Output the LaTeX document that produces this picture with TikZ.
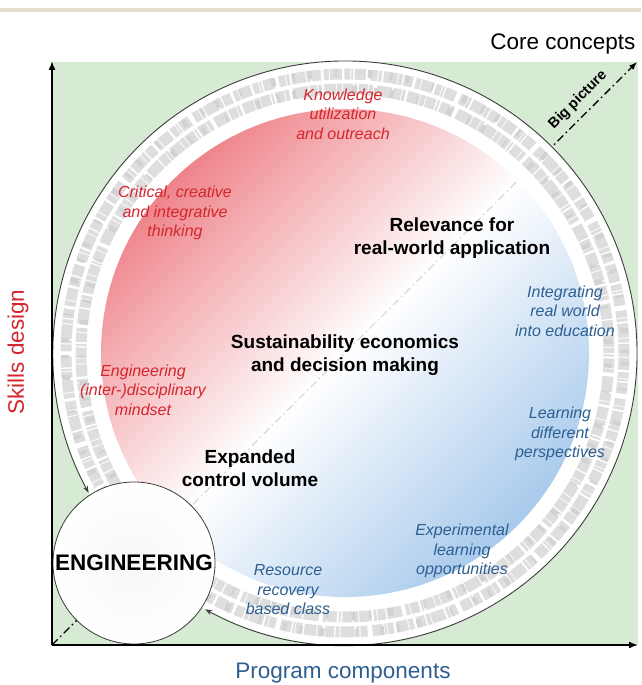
\documentclass[tikz,border=0pt]{standalone}
\usepackage{fontspec}
\setmainfont{Liberation Sans}
\usetikzlibrary{arrows.meta}
\definecolor{bgband}{RGB}{226,223,206}
\definecolor{greenbg}{RGB}{215,234,211}
\definecolor{redtxt}{RGB}{212,38,45}
\definecolor{bluetxt}{RGB}{45,95,145}
\definecolor{pinkc}{RGB}{238,132,138}
\definecolor{bluec}{RGB}{168,202,236}
\definecolor{ringc}{RGB}{222,222,222}
\definecolor{ringd}{RGB}{210,210,210}
\definecolor{outl}{RGB}{60,60,60}
\tikzset{
  redit/.style={text=redtxt, font=\fontsize{16}{19.5}\selectfont\itshape, align=center},
  blueit/.style={text=bluetxt, font=\fontsize{16}{19.5}\selectfont\itshape, align=center},
  boldt/.style={font=\fontsize{19}{23.5}\selectfont\bfseries, align=center},
  axislabel/.style={font=\fontsize{22.5}{26}\selectfont},
  axisline/.style={line width=1.6pt, -{Latex[length=9pt,width=7pt]}},
  bigpic/.style={line width=1.3pt, dash pattern=on 8pt off 3.5pt on 1.6pt off 3.5pt, -{Latex[length=8pt,width=6pt]}},
  ringa/.style={ringc, line width=11pt, dash pattern=on 9pt off 1.5pt on 4pt off 1pt on 14pt off 2pt on 3pt off 1pt on 7pt off 5pt on 11pt off 1.5pt on 2pt off 1pt on 6pt off 2.5pt on 12pt off 1pt on 5pt off 3pt},
  ringb/.style={ringc, line width=11pt, dash pattern=on 5pt off 1pt on 12pt off 2.5pt on 3pt off 1pt on 8pt off 1.5pt on 15pt off 4pt on 4pt off 1pt on 9pt off 2pt on 2pt off 1.5pt on 10pt off 1pt},
  ringdk/.style={ringd, line width=8pt, dash pattern=on 3pt off 17pt on 5pt off 31pt on 2pt off 23pt on 4pt off 13pt},
}
\begin{document}
\begin{tikzpicture}[x=1pt,y=1pt]
\useasboundingbox (0,0) rectangle (641,685);
\fill[white] (0,0) rectangle (641,685);
\fill[bgband] (0,672.5) rectangle (641,677);
\fill[greenbg] (52,40) rectangle (638,623);
\coordinate (O) at (52,40);
\coordinate (BP) at (637,623);
\coordinate (YT) at (52,624);
\coordinate (XR) at (638,40);
\coordinate (C) at (345,332);
% diagonal (black part)
\draw[bigpic] (O) -- (BP);
% big circle
\fill[white] (C) circle (292);
\draw[ringa] (C) circle (279);
\draw[ringb] (C) circle (264);
\draw[ringdk] (C) circle (280);
\draw[ringdk, dash phase=11pt] (C) circle (263);
\shade[left color=pinkc, right color=bluec, middle color=white, shading angle=45] (C) circle (244);
\begin{scope}
  \clip (C) circle (244);
  \draw[line width=1.2pt, gray, opacity=0.3, dash pattern=on 8pt off 3.5pt on 1.6pt off 3.5pt] (O) -- (BP);
\end{scope}
% outline with arrows into ENGINEERING
\draw[outl, line width=0.9pt, {Stealth[length=7pt,width=5pt]}-{Stealth[length=7pt,width=5pt]}]
  ([shift={(241.4:292)}]C) arc[start angle=241.4, end angle=568.6, radius=292];
% engineering circle
\node[circle, draw=outl, line width=0.8pt, minimum size=162pt, inner sep=0pt,
      inner color=black!3, outer color=white] (eng) at (134,122) {};
\node[font=\fontsize{22.5}{26}\selectfont\bfseries] (engtxt) at (eng) {ENGINEERING};
% axes
\draw[axisline] (O) -- (YT);
\draw[axisline] (O) -- (XR);
% labels
\node[axislabel, anchor=east] (core) at (639,641) {Core concepts};
\node[axislabel, text=redtxt, rotate=90] (skills) at (18,333) {Skills design};
\node[axislabel, text=bluetxt] (prog) at (343,12) {Program components};
\node[rotate=45, inner sep=1pt, font=\fontsize{14.5}{17}\selectfont\bfseries] (big) at (578,585) {Big picture};
% red texts
\node[redit] (know) at (343,571) {Knowledge\\utilization\\and outreach};
\node[redit] (crit) at (175,472) {Critical, creative\\and integrative\\thinking};
\node[redit] (mind) at (143,295) {Engineering\\(inter-)disciplinary\\mindset};
% bold texts
\node[boldt] (rel) at (452,447) {Relevance for\\real-world application};
\node[boldt] (sus) at (345,330) {Sustainability economics\\and decision making};
\node[boldt] (exp) at (250,217) {Expanded\\control volume};
% blue texts
\node[blueit] (integ) at (565,374) {Integrating\\real world\\into education};
\node[blueit] (learn) at (560,251) {Learning\\different\\perspectives};
\node[blueit] (expl) at (462,134) {Experimental\\learning\\opportunities};
\node[blueit] (res) at (288,95) {Resource\\recovery\\based class};
\end{tikzpicture}
\end{document}
